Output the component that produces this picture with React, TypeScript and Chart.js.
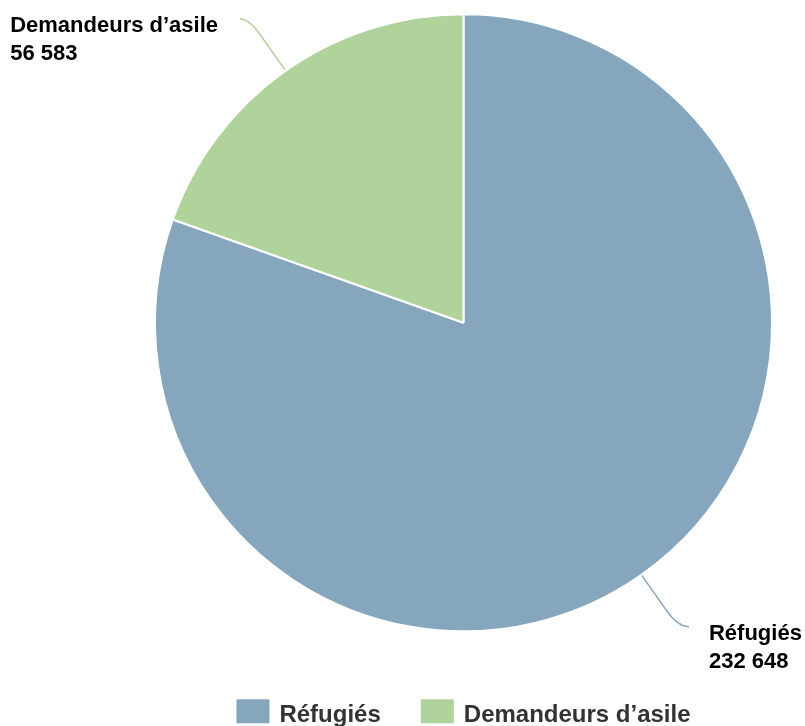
import React, { useEffect, useRef } from 'react';
import { Chart, registerables } from 'chart.js';

Chart.register(...registerables);

const categories: string[] = ['Réfugiés', 'Demandeurs d’asile'];
const values: number[] = [232648, 56583];
const colors: string[] = ['#85a6bc', '#b0d29b'];

const FONT = '"Liberation Sans", Arial, Helvetica, sans-serif';

function fmt(n: number): string {
  return String(n).replace(/\B(?=(\d{3})+(?!\d))/g, ' ');
}

const labelPlugin = {
  id: 'pieLabels',
  afterDatasetsDraw(chart: any) {
    const ctx = chart.ctx as CanvasRenderingContext2D;
    const meta = chart.getDatasetMeta(0);
    meta.data.forEach((arc: any, i: number) => {
      const { x, y, startAngle, endAngle, outerRadius } = arc.getProps(
        ['x', 'y', 'startAngle', 'endAngle', 'outerRadius'],
        true
      );
      const mid = (startAngle + endAngle) / 2;
      const cos = Math.cos(mid);
      const sin = Math.sin(mid);
      const ex = x + cos * (outerRadius + 1);
      const ey = y + sin * (outerRadius + 1);
      const dy = 51 * (sin >= 0 ? 1 : -1);
      const t = dy / sin;
      const cx = ex + cos * t;
      const cy = ey + dy;
      const right = cos >= 0;
      const endX = cx + (right ? 11 : -9);
      const sx = ex + cos * t * 0.7;
      const sy = ey + sin * t * 0.7;
      ctx.save();
      ctx.strokeStyle = colors[i];
      ctx.lineWidth = 1.5;
      ctx.beginPath();
      ctx.moveTo(ex, ey);
      ctx.lineTo(sx, sy);
      ctx.quadraticCurveTo(cx, cy, endX, cy);
      ctx.stroke();
      ctx.font = `bold 22px ${FONT}`;
      ctx.fillStyle = '#000000';
      ctx.textAlign = 'left';
      ctx.textBaseline = 'alphabetic';
      const lines = [categories[i], fmt(values[i])];
      const blockW = Math.max(...lines.map((l) => ctx.measureText(l).width));
      const tx = right ? endX + 20 : endX - 22 - blockW;
      lines.forEach((l, k) => ctx.fillText(l, tx, cy + 13.5 + k * 27.5));
      ctx.restore();
    });
  },
};

const legendPlugin = {
  id: 'customLegend',
  afterDraw(chart: any) {
    const ctx = chart.ctx as CanvasRenderingContext2D;
    const area = chart.chartArea;
    ctx.save();
    ctx.font = `bold 24px ${FONT}`;
    const boxW = 33;
    const boxH = 24;
    const gap = 10;
    const itemGap = 40;
    const widths = categories.map((c) => boxW + gap + ctx.measureText(c).width);
    const total = widths.reduce((s, w) => s + w, 0) + itemGap * (widths.length - 1);
    let lx = (area.left + area.right) / 2 - total / 2;
    const top = area.bottom + 67;
    categories.forEach((c, i) => {
      ctx.fillStyle = colors[i];
      ctx.fillRect(lx, top, boxW, boxH);
      ctx.fillStyle = '#333333';
      ctx.textAlign = 'left';
      ctx.textBaseline = 'alphabetic';
      ctx.fillText(c, lx + boxW + gap, top + boxH - 1);
      lx += widths[i] + itemGap;
    });
    ctx.restore();
  },
};

export default function App() {
  const ref = useRef<HTMLCanvasElement | null>(null);

  useEffect(() => {
    document.body.style.margin = '0';
    const canvas = ref.current;
    if (!canvas) return;
    const chart = new Chart(canvas, {
      type: 'pie',
      data: {
        labels: categories,
        datasets: [
          {
            data: values,
            backgroundColor: colors,
            borderColor: '#ffffff',
            borderWidth: 2,
            hoverOffset: 0,
          },
        ],
      },
      options: {
        responsive: false,
        animation: false,
        devicePixelRatio: 1,
        layout: {
          padding: { left: 154, right: 32, top: 13.3, bottom: 93.7 },
        },
        plugins: {
          legend: { display: false },
          tooltip: { enabled: false },
          title: { display: false },
        },
      },
      plugins: [labelPlugin, legendPlugin],
    });
    return () => chart.destroy();
  }, []);

  return (
    <div style={{ width: 805, height: 726, background: '#ffffff' }}>
      <canvas ref={ref} width={805} height={726} style={{ display: 'block', width: 805, height: 726 }} />
    </div>
  );
}
